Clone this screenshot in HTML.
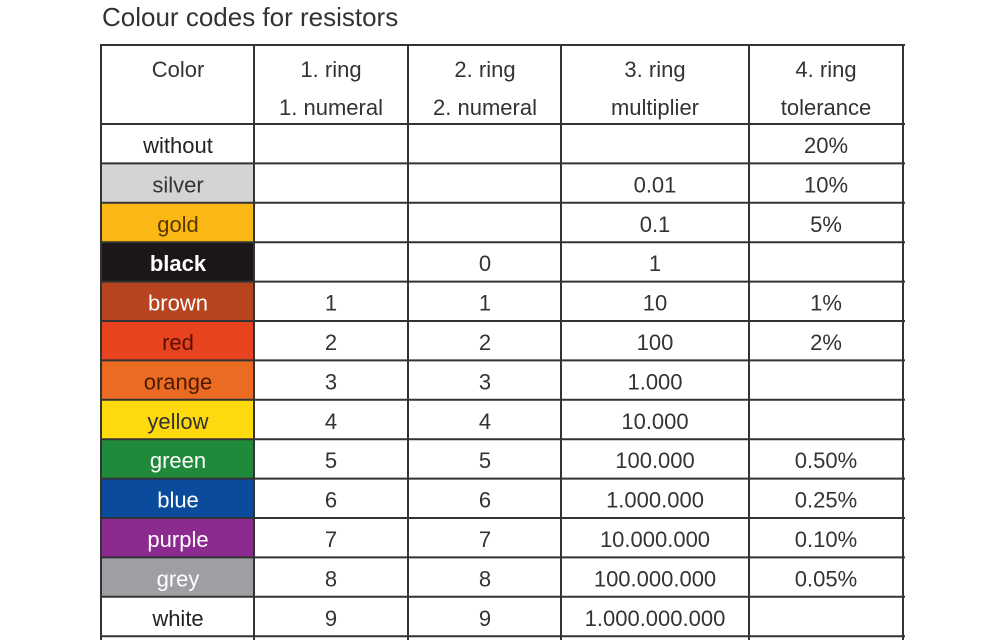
<!DOCTYPE html>
<html><head><meta charset="utf-8"><style>
html,body{margin:0;padding:0;background:#fff;width:1000px;height:640px;overflow:hidden}
text{font-family:"Liberation Sans",Arial,sans-serif}
</style></head><body>
<svg width="1000" height="640" xmlns="http://www.w3.org/2000/svg">
<text x="102" y="26" font-size="26" fill="#333">Colour codes for resistors</text>
<g font-size="22" fill="#333" text-anchor="middle">
<text x="178" y="77">Color</text>
<text x="331" y="77">1. ring</text><text x="331" y="115">1. numeral</text>
<text x="485" y="77">2. ring</text><text x="485" y="115">2. numeral</text>
<text x="655" y="77">3. ring</text><text x="655" y="115">multiplier</text>
<text x="826" y="77">4. ring</text><text x="826" y="115">tolerance</text>
</g>
<g id="rows" font-size="22" text-anchor="middle"></g>
<g id="grid" stroke="#333" stroke-width="2"></g>
</svg>
<script>
var rows=[
["without","#fff","#222","","","","20%"],
["silver","#d4d4d4","#333","","","0.01","10%"],
["gold","#fbb714","#5a3a00","","","0.1","5%"],
["black","#1b1619","#fff","","0","1",""],
["brown","#b5441f","#fff","1","1","10","1%"],
["red","#e8431f","#5a1000","2","2","100","2%"],
["orange","#ec6b22","#4a1a00","3","3","1.000",""],
["yellow","#fdd90d","#333","4","4","10.000",""],
["green","#1e8a3a","#fff","5","5","100.000","0.50%"],
["blue","#0b4b9b","#fff","6","6","1.000.000","0.25%"],
["purple","#8c2a8f","#fff","7","7","10.000.000","0.10%"],
["grey","#9d9fa3","#fff","8","8","100.000.000","0.05%"],
["white","#fff","#222","9","9","1.000.000.000",""]];
var ns="http://www.w3.org/2000/svg",g=document.getElementById("rows"),gr=document.getElementById("grid");
var xs=[101,254,408,561,749,903],cx=[178,331,485,655,826],h=39.4;
function el(t,a,p,txt){var e=document.createElementNS(ns,t);for(var k in a)e.setAttribute(k,a[k]);if(txt)e.textContent=txt;p.appendChild(e);}
rows.forEach(function(r,i){var y=124+i*h;
el("rect",{x:101,y:y,width:153,height:h,fill:r[1]},g);
var a={x:cx[0],y:y+29,fill:r[2]};if(r[0]=="black")a["font-weight"]="bold";
el("text",a,g,r[0]);
for(var j=3;j<7;j++)if(r[j])el("text",{x:cx[j-2],y:y+29,fill:"#333"},g,r[j]);});
var ys=[45,124];for(var i=1;i<=13;i++)ys.push(124+i*h);
ys.forEach(function(y){el("line",{x1:101,x2:905,y1:y,y2:y},gr);});
xs.forEach(function(x){el("line",{x1:x,x2:x,y1:44,y2:640},gr);});
</script>
</body></html>
